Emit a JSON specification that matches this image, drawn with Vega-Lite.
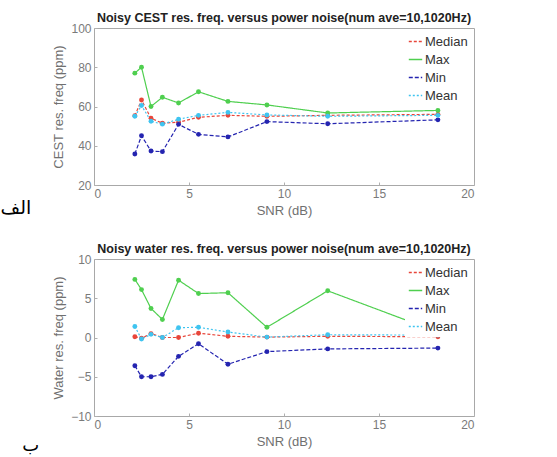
{
  "$schema": "https://vega.github.io/schema/vega-lite/v6.json",
  "background": "white",
  "padding": {"left": 0, "top": 11, "right": 5, "bottom": 0},
  "config": {
    "font": "Liberation Sans",
    "view": {"stroke": "#a8a8a8", "strokeWidth": 1},
    "axis": {"grid": false, "domain": false, "labelColor": "#7a7a7a", "titleColor": "#707070", "labelFontSize": 12, "titleFontSize": 13, "titleFontWeight": "normal", "tickColor": "#b0b0b0", "tickSize": -3, "labelPadding": 6, "titlePadding": 5},
    "legend": {"orient": "top-right", "offset": 3, "fillColor": "white", "padding": 3, "labelFontSize": 13, "labelColor": "#333333", "symbolType": "stroke", "symbolSize": 180, "symbolStrokeWidth": 1.5, "rowPadding": 3, "labelOffset": 2},
    "title": {"fontSize": 12.5, "fontWeight": "bold", "color": "#222222", "offset": -2}
  },
  "datasets": {
    "cest": [
      {"snr": 2.15, "series": "Median", "value": 55.3}, {"snr": 2.5, "series": "Median", "value": 63.3}, {"snr": 3.0, "series": "Median", "value": 54.0}, {"snr": 3.6, "series": "Median", "value": 51.5}, {"snr": 4.45, "series": "Median", "value": 52.0}, {"snr": 5.5, "series": "Median", "value": 54.5}, {"snr": 7.05, "series": "Median", "value": 55.5}, {"snr": 9.1, "series": "Median", "value": 55.0}, {"snr": 12.3, "series": "Median", "value": 55.5}, {"snr": 18.1, "series": "Median", "value": 56.0},
      {"snr": 2.15, "series": "Max", "value": 77.0}, {"snr": 2.5, "series": "Max", "value": 80.0}, {"snr": 3.0, "series": "Max", "value": 60.0}, {"snr": 3.6, "series": "Max", "value": 64.7}, {"snr": 4.45, "series": "Max", "value": 61.8}, {"snr": 5.5, "series": "Max", "value": 67.5}, {"snr": 7.05, "series": "Max", "value": 62.6}, {"snr": 9.1, "series": "Max", "value": 60.8}, {"snr": 12.3, "series": "Max", "value": 56.7}, {"snr": 18.1, "series": "Max", "value": 58.0},
      {"snr": 2.15, "series": "Min", "value": 35.8}, {"snr": 2.5, "series": "Min", "value": 45.1}, {"snr": 3.0, "series": "Min", "value": 37.3}, {"snr": 3.6, "series": "Min", "value": 37.0}, {"snr": 4.45, "series": "Min", "value": 50.9}, {"snr": 5.5, "series": "Min", "value": 45.8}, {"snr": 7.05, "series": "Min", "value": 44.5}, {"snr": 9.1, "series": "Min", "value": 52.3}, {"snr": 12.3, "series": "Min", "value": 51.2}, {"snr": 18.1, "series": "Min", "value": 53.2},
      {"snr": 2.15, "series": "Mean", "value": 55.0}, {"snr": 2.5, "series": "Mean", "value": 60.5}, {"snr": 3.0, "series": "Mean", "value": 52.5}, {"snr": 3.6, "series": "Mean", "value": 51.0}, {"snr": 4.45, "series": "Mean", "value": 53.5}, {"snr": 5.5, "series": "Mean", "value": 55.5}, {"snr": 7.05, "series": "Mean", "value": 57.0}, {"snr": 9.1, "series": "Mean", "value": 55.7}, {"snr": 12.3, "series": "Mean", "value": 55.0}, {"snr": 18.1, "series": "Mean", "value": 55.5}
    ],
    "water": [
      {"snr": 2.15, "series": "Median", "value": 0.1}, {"snr": 2.5, "series": "Median", "value": -0.1}, {"snr": 3.0, "series": "Median", "value": 0.5}, {"snr": 3.6, "series": "Median", "value": 0.0}, {"snr": 4.45, "series": "Median", "value": 0.0}, {"snr": 5.5, "series": "Median", "value": 0.55}, {"snr": 7.05, "series": "Median", "value": 0.15}, {"snr": 9.1, "series": "Median", "value": 0.05}, {"snr": 12.3, "series": "Median", "value": 0.15}, {"snr": 18.1, "series": "Median", "value": 0.1},
      {"snr": 2.15, "series": "Max", "value": 7.4}, {"snr": 2.5, "series": "Max", "value": 6.1}, {"snr": 3.0, "series": "Max", "value": 3.7}, {"snr": 3.6, "series": "Max", "value": 2.3}, {"snr": 4.45, "series": "Max", "value": 7.3}, {"snr": 5.5, "series": "Max", "value": 5.6}, {"snr": 7.05, "series": "Max", "value": 5.7}, {"snr": 9.1, "series": "Max", "value": 1.3}, {"snr": 12.3, "series": "Max", "value": 5.95}, {"snr": 18.1, "series": "Max", "value": 0.7},
      {"snr": 2.15, "series": "Min", "value": -3.6}, {"snr": 2.5, "series": "Min", "value": -5.0}, {"snr": 3.0, "series": "Min", "value": -5.0}, {"snr": 3.6, "series": "Min", "value": -4.7}, {"snr": 4.45, "series": "Min", "value": -2.4}, {"snr": 5.5, "series": "Min", "value": -0.8}, {"snr": 7.05, "series": "Min", "value": -3.4}, {"snr": 9.1, "series": "Min", "value": -1.8}, {"snr": 12.3, "series": "Min", "value": -1.45}, {"snr": 18.1, "series": "Min", "value": -1.35},
      {"snr": 2.15, "series": "Mean", "value": 1.4}, {"snr": 2.5, "series": "Mean", "value": -0.2}, {"snr": 3.0, "series": "Mean", "value": 0.4}, {"snr": 3.6, "series": "Mean", "value": 0.0}, {"snr": 4.45, "series": "Mean", "value": 1.25}, {"snr": 5.5, "series": "Mean", "value": 1.3}, {"snr": 7.05, "series": "Mean", "value": 0.7}, {"snr": 9.1, "series": "Mean", "value": 0.05}, {"snr": 12.3, "series": "Mean", "value": 0.35}, {"snr": 18.1, "series": "Mean", "value": 0.3}
    ]
  },
  "spacing": 24,
  "resolve": {"scale": {"color": "independent", "strokeDash": "independent"}, "legend": {"color": "independent", "strokeDash": "independent"}},
  "vconcat": [
    {
      "title": {"text": "الف", "orient": "bottom", "anchor": "start", "font": "DejaVu Sans", "fontSize": 19, "fontWeight": "normal", "color": "#000000", "dx": -52, "dy": -17},
      "resolve": {"scale": {"color": "independent", "strokeDash": "independent"}, "legend": {"color": "independent", "strokeDash": "independent"}},
      "vconcat": [
        {
          "width": 380, "height": 157,
          "title": {"text": "Noisy CEST res. freq. versus power noise(num ave=10,1020Hz)"},
          "data": {"name": "cest"},
          "mark": {"type": "line", "strokeWidth": 1.2, "point": {"filled": true, "size": 24}},
          "encoding": {
            "x": {"field": "snr", "type": "quantitative", "scale": {"domain": [0, 20]}, "axis": {"values": [0, 5, 10, 15, 20], "title": "SNR (dB)"}},
            "y": {"field": "value", "type": "quantitative", "scale": {"domain": [20, 100]}, "axis": {"values": [20, 40, 60, 80, 100], "title": "CEST res. freq (ppm)"}},
            "color": {"field": "series", "type": "nominal", "scale": {"domain": ["Median", "Max", "Min", "Mean"], "range": ["#e8463a", "#4fcf4f", "#2424b0", "#3fc4f0"]}, "legend": {"title": null}},
            "strokeDash": {"field": "series", "type": "nominal", "scale": {"domain": ["Median", "Max", "Min", "Mean"], "range": [[3, 2], [1, 0], [4, 2], [2, 2]]}, "legend": null}
          }
        }
      ]
    },
    {
      "title": {"text": "ب", "orient": "bottom", "anchor": "start", "font": "DejaVu Sans", "fontSize": 18, "fontWeight": "normal", "color": "#000000", "dx": -30, "dy": -10},
      "resolve": {"scale": {"color": "independent", "strokeDash": "independent"}, "legend": {"color": "independent", "strokeDash": "independent"}},
      "vconcat": [
        {
          "width": 380, "height": 157,
          "title": {"text": "Noisy water res. freq. versus power noise(num ave=10,1020Hz)"},
          "data": {"name": "water"},
          "mark": {"type": "line", "strokeWidth": 1.2, "point": {"filled": true, "size": 24}},
          "encoding": {
            "x": {"field": "snr", "type": "quantitative", "scale": {"domain": [0, 20]}, "axis": {"values": [0, 5, 10, 15, 20], "title": "SNR (dB)"}},
            "y": {"field": "value", "type": "quantitative", "scale": {"domain": [-10, 10]}, "axis": {"values": [-10, -5, 0, 5, 10], "title": "Water res. freq (ppm)"}},
            "color": {"field": "series", "type": "nominal", "scale": {"domain": ["Median", "Max", "Min", "Mean"], "range": ["#e8463a", "#4fcf4f", "#2424b0", "#3fc4f0"]}, "legend": {"title": null}},
            "strokeDash": {"field": "series", "type": "nominal", "scale": {"domain": ["Median", "Max", "Min", "Mean"], "range": [[3, 2], [1, 0], [4, 2], [2, 2]]}, "legend": null}
          }
        }
      ]
    }
  ]
}
